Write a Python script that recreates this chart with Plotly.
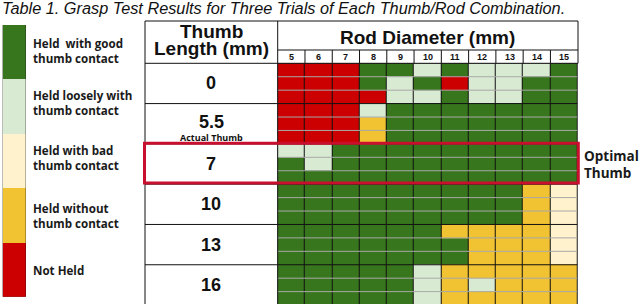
import plotly.graph_objects as go

W, H = 640, 304


def px(x):
    return x / W


def py(y):
    return 1 - y / H


# ---------------- data ----------------
rod_diameters = [5, 6, 7, 8, 9, 10, 11, 12, 13, 14, 15]
thumb_lengths = ["0", "5.5", "7", "10", "13", "16"]

# status codes: G good, L loose, B bad, Y without thumb, R not held
status_codes = ["G", "L", "B", "Y", "R"]
status_labels = ["Held  with good<br>thumb contact", "Held loosely with<br>thumb contact",
                 "Held with bad<br>thumb contact", "Held without<br>thumb contact", "Not Held"]
status_colors = ["#38761d", "#d9ead3", "#fff2cc", "#f1c232", "#cc0000"]

trials_0 = ["RRRGGLGLLLG", "RRRGLGRLLGG", "RRRRLLGLLGG"]
trials_5_5 = ["RRRLGGGGGGG", "RRRYGGGGGGG", "RRRYGGGGGGG"]
trials_7 = ["LLGGGGGGGGG", "GLGGGGGGGGG", "GGGGGGGGGGG"]
trials_10 = ["GGGGGGGGGYB", "GGGGGGGGGYB", "GGGGGGGGGYB"]
trials_13 = ["GGGGGGYYYYB", "GGGGGGGYYYB", "GGGGGGGYYYB"]
trials_16 = ["GGGGGLYYYYY", "GGGGGLYLYYY", "GGGGGLYYYYY"]

all_trials = [trials_0, trials_5_5, trials_7, trials_10, trials_13, trials_16]

z = [[status_codes.index(c) for c in row] for grp in all_trials for row in grp]
row_idx = list(range(len(z)))

n = len(status_colors)
cscale = []
for i, c in enumerate(status_colors):
    cscale.append([i / n, c])
    cscale.append([(i + 1) / n, c])

fig = go.Figure()

fig.add_trace(go.Heatmap(
    x=rod_diameters, y=row_idx, z=z, zmin=-0.5, zmax=n - 0.5,
    colorscale=cscale, showscale=False, xgap=1, ygap=0, hoverinfo="skip",
    xaxis="x", yaxis="y"))

fig.add_trace(go.Heatmap(
    x=[0], y=list(range(n)), z=[[i] for i in range(n)], zmin=-0.5, zmax=n - 0.5,
    colorscale=cscale, showscale=False, hoverinfo="skip",
    xaxis="x2", yaxis="y2"))

GRID_L, GRID_R, GRID_T = 277.7, 577.7, 63.3
COL_L = 145
ROW_H = 13.43
bottom_row = -0.5 + (H - GRID_T) / ROW_H

shapes = []
line_black = dict(color="#111111", width=1)

# horizontal row separators in the grid
for k in range(len(z) - 1):
    b = k + 0.5
    col = "#111111" if (k + 1) % 3 == 0 else "#a8a8a8"
    shapes.append(dict(type="line", xref="x", yref="y", x0=4.5, x1=15.5, y0=b, y1=b,
                       line=dict(color=col, width=1)))
# right border of grid
shapes.append(dict(type="line", xref="x", yref="y", x0=15.5, x1=15.5, y0=-0.5, y1=bottom_row,
                   line=dict(color="#555555", width=1)))

# left column (thumb length) borders
shapes.append(dict(type="line", xref="paper", yref="paper", x0=px(COL_L), x1=px(COL_L),
                   y0=py(21), y1=py(H + 2), line=line_black))
shapes.append(dict(type="line", xref="paper", yref="paper", x0=px(GRID_L), x1=px(GRID_L),
                   y0=py(21), y1=py(H + 2), line=line_black))
shapes.append(dict(type="line", xref="paper", yref="paper", x0=px(COL_L), x1=px(578),
                   y0=py(21), y1=py(21), line=line_black))
shapes.append(dict(type="line", xref="paper", yref="paper", x0=px(COL_L), x1=px(578),
                   y0=py(GRID_T), y1=py(GRID_T), line=line_black))
shapes.append(dict(type="line", xref="paper", yref="paper", x0=px(GRID_L), x1=px(578),
                   y0=py(50), y1=py(50), line=line_black))
shapes.append(dict(type="line", xref="paper", yref="paper", x0=px(578), x1=px(578),
                   y0=py(21), y1=py(GRID_T), line=line_black))
for g in range(1, len(thumb_lengths)):
    b = 3 * g - 0.5
    shapes.append(dict(type="line", xref="paper", yref="y", x0=px(COL_L), x1=px(GRID_L),
                       y0=b, y1=b, line=line_black))
# column-number cell separators
for r in rod_diameters[:-1]:
    shapes.append(dict(type="line", xref="x", yref="paper", x0=r + 0.5, x1=r + 0.5,
                       y0=py(50), y1=py(GRID_T), line=line_black))

# optimal highlight box
shapes.append(dict(type="rect", xref="paper", yref="y", x0=px(144.5), x1=px(578.3),
                   y0=5.45, y1=8.42, line=dict(color="#c8102e", width=3)))

ann = []
title_font = dict(family="Liberation Sans, Arial", size=16.3, color="#111111", style="italic")
ann.append(dict(text="Table 1. Grasp Test Results for Three Trials of Each Thumb/Rod Combination.",
                xref="paper", yref="paper", x=0, y=py(7.5), xanchor="left", yanchor="middle",
                showarrow=False, font=title_font))

hdr_font = dict(family="Liberation Sans, Arial", size=19, color="#111111")
ann.append(dict(text="<b>Thumb</b>", xref="paper", yref="paper", x=px(211.3), y=py(31),
                showarrow=False, font=hdr_font, xanchor="center", yanchor="middle"))
ann.append(dict(text="<b>Length (mm)</b>", xref="paper", yref="paper", x=px(211.3), y=py(48.5),
                showarrow=False, font=hdr_font, xanchor="center", yanchor="middle"))
ann.append(dict(text="<b>Rod Diameter (mm)</b>", xref="paper", yref="paper", x=px(427), y=py(37),
                showarrow=False, font=hdr_font, xanchor="center", yanchor="middle"))

num_font = dict(family="Liberation Sans, Arial", size=9, color="#111111")
for r in rod_diameters:
    ann.append(dict(text=f"<b>{r}</b>", xref="x", yref="paper", x=r, y=py(56.8),
                    showarrow=False, font=num_font, xanchor="center", yanchor="middle"))

tl_font = dict(family="Liberation Sans, Arial", size=18, color="#111111")
for g, t in enumerate(thumb_lengths):
    yc = 3 * g + 1
    if t == "5.5":
        yc -= 0.15
    ann.append(dict(text=f"<b>{t}</b>", xref="paper", yref="y", x=px(211.3), y=yc,
                    showarrow=False, font=tl_font, xanchor="center", yanchor="middle"))
ann.append(dict(text="<b>Actual Thumb</b>", xref="paper", yref="y", x=px(211.3), y=5.0,
                showarrow=False, font=dict(family="Open Sans", size=9, color="#111111"),
                xanchor="center", yanchor="middle"))

lab_font = dict(family="Open Sans", size=11.6, color="#1a1a1a")
label_centers = [51, 103, 158, 216, 270]
for i in range(n):
    ann.append(dict(text=f"<b>{status_labels[i]}</b>", xref="paper", yref="paper", x=px(30.5),
                    y=py(label_centers[i]), xanchor="left", yanchor="middle", align="left",
                    showarrow=False, font=lab_font))

opt_font = dict(family="Open Sans", size=13.5, color="#1a1a1a")
ann.append(dict(text="<b>Optimal</b>", xref="paper", yref="paper", x=px(582), y=py(156),
                xanchor="left", yanchor="middle", showarrow=False, font=opt_font))
ann.append(dict(text="<b>Thumb</b>", xref="paper", yref="paper", x=px(582), y=py(172.5),
                xanchor="left", yanchor="middle", showarrow=False, font=opt_font))

fig.update_layout(
    width=W, height=H, margin=dict(l=0, r=0, t=0, b=0),
    paper_bgcolor="white", plot_bgcolor="#111111",
    xaxis=dict(domain=[px(GRID_L), px(GRID_R)], range=[4.5, 15.5], visible=False,
               anchor="y", fixedrange=True),
    yaxis=dict(domain=[0, py(GRID_T)], range=[bottom_row, -0.5], visible=False,
               anchor="x", fixedrange=True),
    xaxis2=dict(domain=[px(2.7), px(26)], range=[-0.5, 0.5], visible=False, anchor="y2"),
    yaxis2=dict(domain=[py(296.7), py(25)], range=[n - 0.5, -0.5], visible=False, anchor="x2"),
    shapes=shapes, annotations=ann, showlegend=False,
)

fig.write_html(
    "out.html",
    config={"displayModeBar": False},
    post_script="document.body.style.margin='0';document.body.style.overflow='hidden';",
)
